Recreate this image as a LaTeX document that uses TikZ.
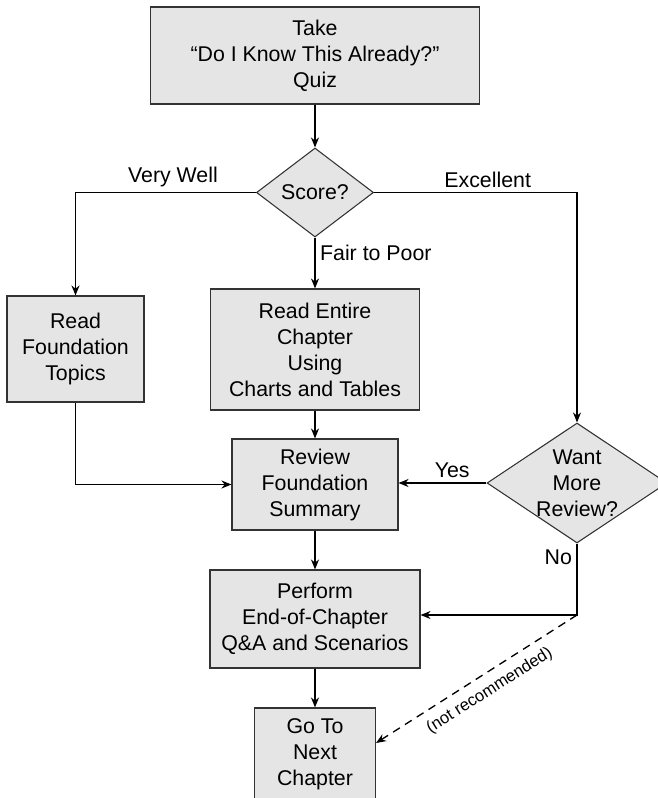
\documentclass[tikz,border=0pt]{standalone}
\usepackage{fontspec}
\setmainfont{Liberation Sans}
\usetikzlibrary{arrows.meta,shapes.geometric}

\tikzset{
  box/.style={draw=black!80, line width=0.8pt, fill=black!10, align=center, inner sep=0pt},
  decision/.style={diamond, draw=black!80, line width=0.8pt, fill=black!10, align=center, inner sep=0pt},
  arr/.style={-{Stealth[length=7.5pt,width=6pt]}, line width=1pt}
}

\begin{document}
\begin{tikzpicture}[x=0.75pt, y=-0.75pt, font=\fontsize{16}{19.5}\selectfont]
        \useasboundingbox (0,0) rectangle (657,798);

        % boxes
        \node[box, minimum width=246.75pt, minimum height=72.75pt] (quiz) at (315,55.5) {Take\\“Do I Know This Already?”\\Quiz};
        \node[decision, minimum width=87.75pt, minimum height=66.75pt] (score) at (315,192.5) {Score?};
        \node[box, minimum width=102.75pt, minimum height=79.5pt] (found) at (75.5,349) {Read\\Foundation\\Topics};
        \node[box, minimum width=156.75pt, minimum height=90.75pt] (entire) at (315,349.5) {Read Entire\\Chapter\\Using\\Charts and Tables};
        \node[decision, minimum width=135pt, minimum height=90pt] (more) at (577,483) {};
        \node[align=center, inner sep=0pt] (moretxt) at (more) {Want\\More\\Review?};
        \node[box, minimum width=124.5pt, minimum height=68.25pt] (review) at (315,484.5) {Review\\Foundation\\Summary};
        \node[box, minimum width=157.5pt, minimum height=73.5pt] (perform) at (315,619) {Perform\\End-of-Chapter\\Q\&A and Scenarios};
        \node[box, minimum width=90.75pt, minimum height=69pt] (go) at (315,754) {Go To\\Next\\Chapter};
        \coordinate (nocorner) at (577,615);

        % connectors
        \draw[arr] (quiz.south) -- (score.north);
        \draw[arr] (score.west) -| node[pos=0.23, above] (vw) {Very Well} (found.north);
        \draw[arr] (score.east) -| node[pos=0.28, above] (ex) {Excellent} (more.north);
        \draw[arr] (score.south) -- node[pos=0.31, right] (fp) {Fair to Poor} (entire.north);
        \draw[arr] (found.south) |- (review.west);
        \draw[arr] (entire.south) -- (review.north);
        \draw[arr] (more.west) -- node[pos=0.39, above] (yes) {Yes} (more.west -| review.east);
        \draw[arr] (review.south) -- (perform.north);
        \draw[arr] (more.south) -- node[pos=0.19, left] (no) {No} (nocorner) -- (nocorner -| perform.east);
        \draw[arr] (perform.south) -- (go.north);
        \draw[arr, dash pattern=on 6pt off 4.5pt] (nocorner) -- node[pos=0.48, sloped, below=3pt, font=\fontsize{12.5}{15}\selectfont] (nr) {(not recommended)} ([yshift=8.25pt]go.east);

\end{tikzpicture}
\end{document}
